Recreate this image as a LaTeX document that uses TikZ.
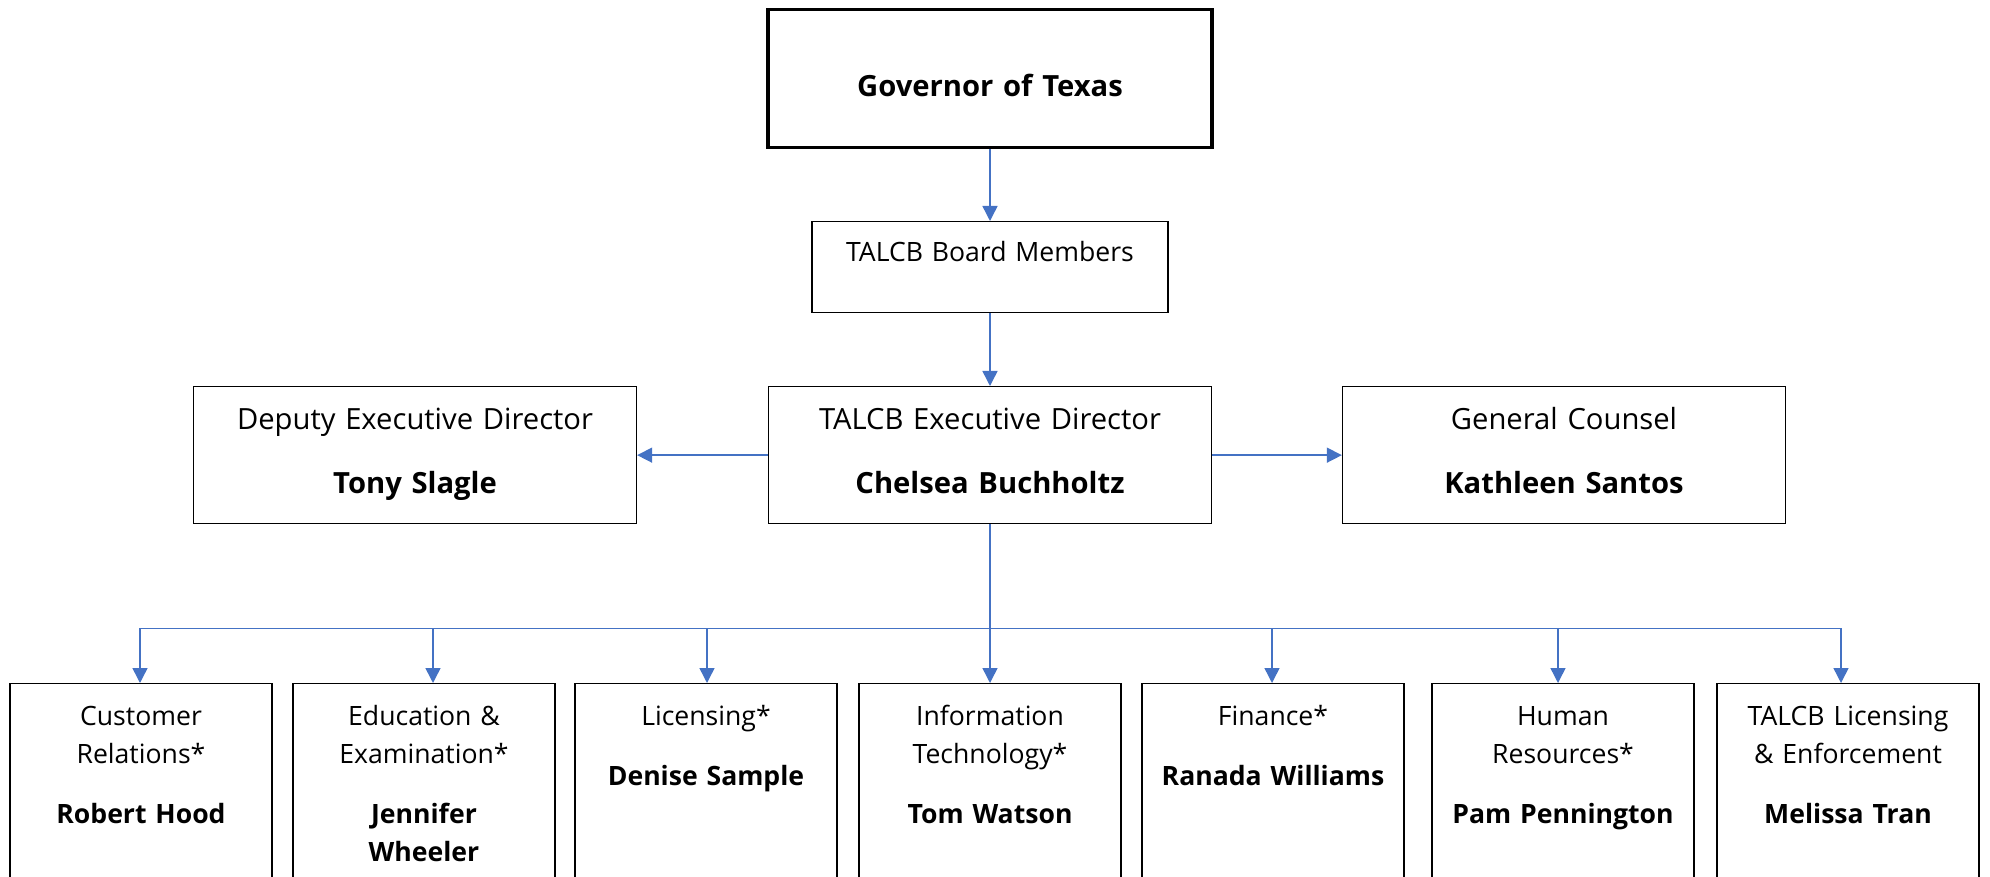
\documentclass[tikz,border=0pt]{standalone}
\usepackage{fontspec}
\setmainfont{Open Sans}
\usetikzlibrary{arrows.meta}
\definecolor{linkblue}{HTML}{4472C4}
\tikzstyle{every node}=[font=\fontsize{29.2}{38}\selectfont]
\tikzstyle{box}=[draw=black,line width=1.3pt,anchor=north,inner sep=0pt,align=center]
\tikzstyle{head}=[box,text width=443pt,text height=43pt,text depth=94pt]
\tikzstyle{unit}=[box,font=\fontsize{26.6}{38}\selectfont,text width=262pt,text height=42pt,text depth=250pt]
\tikzstyle{link}=[draw=linkblue,line width=1.5pt,-{Triangle[width=15pt,length=15pt]}]

\begin{document}
\begin{tikzpicture}[x=1pt,y=-1pt]
    \useasboundingbox (0,0) rectangle (1990,877);
    \node[box,line width=3.5pt,text width=444pt,text height=87pt,text depth=51pt] (gov) at (990,8) {\textbf{Governor of Texas}};
    \node[box,font=\fontsize{26.6}{38}\selectfont,text width=356pt,text height=40pt,text depth=51pt] (board) at (990,221) {TALCB Board Members};
    \node[head] (exec) at (990,386) {TALCB Executive Director\\[26pt]\textbf{Chelsea Buchholtz}};
    \node[head] (deputy) at (415,386) {Deputy Executive Director\\[26pt]\textbf{Tony Slagle}};
    \node[head] (counsel) at (1564,386) {General Counsel\\[26pt]\textbf{Kathleen Santos}};
    \node[unit] (cr) at (141,683) {Customer\\Relations*\\[22pt]\textbf{Robert Hood}};
    \node[unit] (edu) at (424,683) {Education \&\\Examination*\\[22pt]\textbf{Jennifer}\\\textbf{Wheeler}};
    \node[unit] (lic) at (706,683) {Licensing*\\[22pt]\textbf{Denise Sample}};
    \node[unit] (it) at (990,683) {Information\\Technology*\\[22pt]\textbf{Tom Watson}};
    \node[unit] (fin) at (1273,683) {Finance*\\[22pt]\textbf{Ranada Williams}};
    \node[unit] (hr) at (1563,683) {Human\\Resources*\\[22pt]\textbf{Pam Pennington}};
    \node[unit] (enf) at (1848,683) {TALCB Licensing\\\& Enforcement\\[22pt]\textbf{Melissa Tran}};
    \draw[link] (gov) -- (board);
    \draw[link] (board) -- (exec);
    \draw[link] (exec) -- (deputy);
    \draw[link] (exec) -- (counsel);
    \foreach \u/\d in {cr/-1,edu/9,lic/1,it/0,fin/-1,hr/-5,enf/-7}
        \draw[link] (exec.south) -- ++(0,104) -| ([xshift=\d pt]\u.north);
\end{tikzpicture}
\end{document}
